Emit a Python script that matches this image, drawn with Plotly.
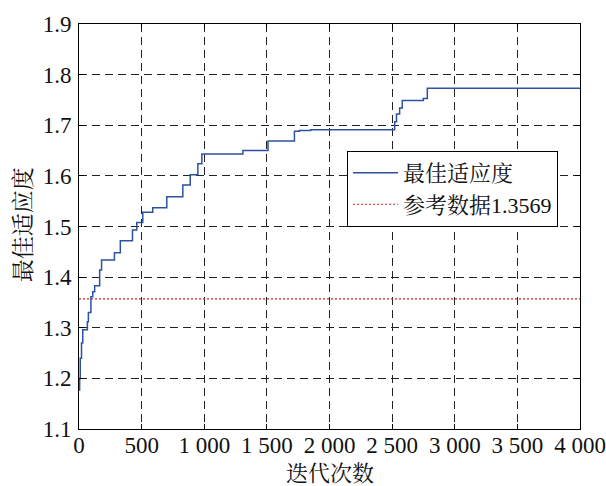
import plotly.graph_objects as go

iterations = [0, 5, 10, 20, 30, 67, 75, 95, 110, 125, 165, 180, 283, 330, 427, 461, 509,
              589, 701, 829, 888, 949, 981, 1309, 1509, 1720, 1760, 1850, 2520, 2535,
              2560, 2581, 2749, 2781, 4000]
best_fitness = [1.177, 1.200, 1.240, 1.270, 1.296, 1.312, 1.330, 1.361, 1.371, 1.383, 1.414,
                1.434, 1.448, 1.472, 1.493, 1.508, 1.528, 1.537, 1.559, 1.582, 1.602, 1.624,
                1.643, 1.650, 1.669, 1.688, 1.6895, 1.691, 1.707, 1.722, 1.734, 1.749, 1.753,
                1.773, 1.773]
ref_value = 1.3569
ref_x = [0, 4000]

x_tickvals = [0, 500, 1000, 1500, 2000, 2500, 3000, 3500, 4000]
x_ticktext = ["0", "500", "1 000", "1 500", "2 000", "2 500", "3 000", "3 500", "4 000"]
y_tickvals = [1.1, 1.2, 1.3, 1.4, 1.5, 1.6, 1.7, 1.8, 1.9]
y_ticktext = ["1.1", "1.2", "1.3", "1.4", "1.5", "1.6", "1.7", "1.8", "1.9"]

font_family = "Liberation Serif, Times New Roman, Noto Serif CJK SC, Noto Sans CJK SC, serif"
cjk_family = "Noto Serif CJK SC, Noto Sans CJK SC, serif"

fig = go.Figure()
fig.add_trace(go.Scatter(x=iterations, y=best_fitness, mode="lines", line_shape="hv",
                         line=dict(color="#2d52a0", width=1.5), name="最佳适应度"))
fig.add_trace(go.Scatter(x=ref_x, y=[ref_value, ref_value], mode="lines",
                         line=dict(color="#e0201b", width=1.2, dash="2px,2px"),
                         name="参考数据1.3569"))

axis_common = dict(showline=True, linecolor="black", linewidth=1, mirror="ticks",
                   ticks="inside", ticklen=5, tickcolor="black", automargin=False,
                   showgrid=True, gridcolor="#222222", gridwidth=1, griddash="8px,5px",
                   zeroline=False, tickfont=dict(family=font_family, size=23, color="#111"))

fig.update_xaxes(range=[0, 4000], tickvals=x_tickvals, ticktext=x_ticktext,
                 ticklabelstandoff=-5, **axis_common)
fig.update_yaxes(range=[1.1, 1.9], tickvals=y_tickvals, ticktext=y_ticktext,
                 ticklabelstandoff=2, **axis_common)

fig.add_annotation(text="迭代次数", xref="paper", yref="paper", x=0.5, y=-0.104,
                   xanchor="center", yanchor="middle", showarrow=False,
                   font=dict(family=cjk_family, size=22, color="#111"))
fig.add_annotation(text="最佳适应度", xref="paper", yref="paper", x=-0.115, y=0.504,
                   xanchor="center", yanchor="middle", showarrow=False, textangle=-90,
                   font=dict(family=cjk_family, size=23, color="#111"))

fig.update_layout(
    width=606, height=486,
    margin=dict(l=79, r=26, t=24, b=57),
    paper_bgcolor="white", plot_bgcolor="white",
    showlegend=True,
    legend=dict(x=0.535, y=0.593, xanchor="left", yanchor="middle",
                bgcolor="white", bordercolor="black", borderwidth=1,
                font=dict(family=font_family, size=22, color="#111"),
                itemwidth=45, tracegroupgap=0),
)

fig.write_html("out.html", config={"displayModeBar": False})

# remove the browser's default 8px body margin so the figure sits at the page origin
with open("out.html", "r", encoding="utf-8") as f:
    html = f.read()
html = html.replace("<body>", '<body style="margin:0;padding:0;">', 1)
with open("out.html", "w", encoding="utf-8") as f:
    f.write(html)
